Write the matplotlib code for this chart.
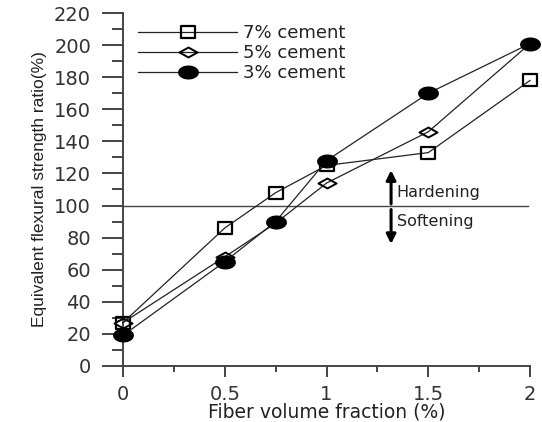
import numpy as np
import matplotlib
matplotlib.use("Agg")
import matplotlib.pyplot as plt
from matplotlib.path import Path

# fiber volume fraction (%)
fiber = [0, 0.5, 0.75, 1, 1.5, 2]
# equivalent flexural strength ratio (%)
cement7 = [27, 86, 108, 125, 133, 178]
cement5 = [27, 68, 89, 114, 146, 201]
cement3 = [19, 65, 90, 128, 170, 201]
labels = ["7% cement", "5% cement", "3% cement"]

plt.rcParams["font.family"] = ["DejaVu Sans"]

# the original picture is stretched sideways, so use wide flat markers
t = np.linspace(0, 2 * np.pi, 40)
ellipse = Path(np.column_stack([np.cos(t), 0.65 * np.sin(t)]), closed=True)
diamond = Path([(-1, 0), (0, 0.55), (1, 0), (0, -0.55), (-1, 0)], closed=True)
rect = Path([(-1, -0.85), (1, -0.85), (1, 0.85), (-1, 0.85), (-1, -0.85)], closed=True)

fig = plt.figure(figsize=(5.42, 4.22), dpi=100)
ax = fig.add_axes([0.227, 0.133, 0.751, 0.836])

line_kw = dict(color="#222222", lw=0.9, clip_on=False, zorder=3)
ax.plot(fiber, cement7, marker=rect, ms=10.5, mfc="none", mec="black", mew=1.6,
        label=labels[0], **line_kw)
ax.plot(fiber, cement5, marker=diamond, ms=13, mfc="none", mec="black", mew=1.4,
        label=labels[1], **line_kw)
ax.plot(fiber, cement3, marker=ellipse, ms=14, mfc="black", mec="black", mew=1,
        label=labels[2], **line_kw)

ax.plot([0, 1.99], [100, 100], color="#444444", lw=1, zorder=2)

ax.annotate("", xy=(1.317, 122), xytext=(1.317, 101),
            arrowprops=dict(arrowstyle="-|>", color="black", lw=2.2, mutation_scale=14,
                            shrinkA=0, shrinkB=0))
ax.annotate("", xy=(1.317, 76), xytext=(1.317, 97.5),
            arrowprops=dict(arrowstyle="-|>", color="black", lw=2.2, mutation_scale=14,
                            shrinkA=0, shrinkB=0))
ax.text(1.345, 108, "Hardening", fontsize=11.5, va="center", ha="left", color="#222222")
ax.text(1.345, 90, "Softening", fontsize=11.5, va="center", ha="left", color="#222222")

ax.set_xlim(0, 2)
ax.set_ylim(0, 220)
ax.set_xticks([0, 0.5, 1, 1.5, 2])
ax.set_xticklabels(["0", "0.5", "1", "1.5", "2"])
ax.set_xticks([0.25, 0.75, 1.25, 1.75], minor=True)
ax.set_yticks(range(0, 221, 20))
ax.set_yticks(range(10, 220, 20), minor=True)

for s in ["top", "right"]:
    ax.spines[s].set_visible(False)
for s in ["left", "bottom"]:
    ax.spines[s].set_linewidth(1.4)
    ax.spines[s].set_color("#444444")

ax.tick_params(axis="y", which="major", direction="out", length=15, width=1.4,
               pad=8, labelsize=14, colors="#444444", labelcolor="#333333")
ax.tick_params(axis="y", which="minor", direction="out", length=8, width=1.4,
               colors="#444444")
ax.tick_params(axis="x", which="major", direction="out", length=8, width=1.4,
               pad=6, labelsize=14, colors="#444444", labelcolor="#333333")
ax.tick_params(axis="x", which="minor", direction="out", length=4, width=1.4,
               colors="#444444")

ax.set_xlabel("Fiber volume fraction (%)", fontsize=13.5, color="#222222", labelpad=-1)
ax.set_ylabel("Equivalent flexural strength ratio(%)", fontsize=12.5,
              family=["Liberation Sans"], color="#222222", labelpad=5)

leg = ax.legend(loc="upper left", bbox_to_anchor=(0.01, 1.0), frameon=False,
                fontsize=13, handlelength=5.5, labelspacing=0.12,
                handletextpad=0.3, borderaxespad=0.2)
for txt in leg.get_texts():
    txt.set_color("#222222")

fig.savefig("out.png", dpi=100)
